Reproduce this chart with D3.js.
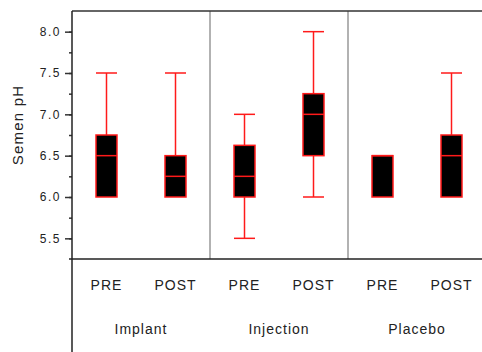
<!DOCTYPE html>
<html>
  <head>
    <meta charset="utf-8">
    <title>Semen pH</title>
    <script src="https://cdn.jsdelivr.net/npm/d3@7"></script>
    <style>
      body { margin: 0; background: #fff; }
      svg { display: block; font-family: "Liberation Sans", Arial, sans-serif; }
      .tick text { font-size: 12px; letter-spacing: 1.5px; fill: #222; }
      .cat { font-size: 14px; letter-spacing: 1px; fill: #222; }
    </style>
  </head>
  <body>
    <svg id="chart" width="482" height="352"></svg>
    <script>
      // data
      groups = ["Implant", "Injection", "Placebo"];
      phases = ["PRE", "POST"];
      // [min, q1, median, q3, max] for each group x phase
      mins    = [6.0, 6.0,  5.5, 6.0,  6.0, 6.0];
      q1s     = [6.0, 6.0,  6.0, 6.5,  6.0, 6.0];
      medians = [6.5, 6.25, 6.25, 7.0, 6.5, 6.5];
      q3s     = [6.75, 6.5, 6.625, 7.25, 6.5, 6.75];
      maxs    = [7.5, 7.5,  7.0, 8.0,  6.5, 7.5];
      yTicks = [5.5, 6.0, 6.5, 7.0, 7.5, 8.0];

      boxes = mins.map(function(d, i) {
        return {
          group: groups[Math.floor(i / 2)],
          phase: phases[i % 2],
          min: mins[i], q1: q1s[i], med: medians[i], q3: q3s[i], max: maxs[i]
        };
      });

      chart = d3.select("#chart");
      margin = { top: 11, left: 72, bottom: 259, right: 486 };

      y = d3.scaleLinear()
        .domain([5.25, 8.25])
        .range([margin.bottom, margin.top]);
      xGroup = d3.scaleBand()
        .domain(groups)
        .range([margin.left, margin.right]);
      xPhase = d3.scalePoint()
        .domain(phases)
        .range([0, xGroup.bandwidth()])
        .padding(0.5);
      boxW = 21;

      function cx(d) {
        return xGroup(d.group) + xPhase(d.phase);
      }

      // panel separators
      chart.selectAll(".sep")
        .data(groups.slice(1))
        .enter().append("line")
          .attr("x1", function(d) { return xGroup(d); })
          .attr("x2", function(d) { return xGroup(d); })
          .attr("y1", margin.top)
          .attr("y2", margin.bottom)
          .attr("stroke", "#999")
          .attr("stroke-width", 1.5);

      // y axis: major and minor ticks
      chart.append("g")
        .attr("transform", "translate(" + margin.left + ",0)")
        .call(d3.axisLeft(y)
          .tickValues(d3.range(5.5, 8.01, 0.25))
          .tickFormat("")
          .tickSize(3)
          .tickSizeOuter(0))
        .call(function(g) {
          g.select(".domain").remove();
          g.selectAll("line").attr("stroke", "#333").attr("stroke-width", 1.5);
        });
      chart.append("g")
        .attr("transform", "translate(" + margin.left + ",0)")
        .call(d3.axisLeft(y)
          .tickValues(yTicks)
          .tickFormat(d3.format(".1f"))
          .tickSize(7)
          .tickPadding(4)
          .tickSizeOuter(0))
        .call(function(g) {
          g.select(".domain").remove();
          g.selectAll("line").attr("stroke", "#333").attr("stroke-width", 1.5);
        });

      // frame lines
      chart.append("line")
        .attr("x1", margin.left).attr("x2", 482)
        .attr("y1", margin.top).attr("y2", margin.top)
        .attr("stroke", "#333").attr("stroke-width", 1.5);
      chart.append("line")
        .attr("x1", margin.left - 3).attr("x2", 482)
        .attr("y1", margin.bottom).attr("y2", margin.bottom)
        .attr("stroke", "#222").attr("stroke-width", 1.5);
      chart.append("line")
        .attr("x1", margin.left).attr("x2", margin.left)
        .attr("y1", margin.top).attr("y2", 352)
        .attr("stroke", "#222").attr("stroke-width", 1.5);

      // y title
      chart.append("text")
        .attr("class", "cat")
        .attr("transform", "translate(23,125) rotate(-90)")
        .attr("text-anchor", "middle")
        .style("font-size", "15px")
        .style("letter-spacing", "1.2px")
        .text("Semen pH");

      // boxes
      b = chart.selectAll(".box")
        .data(boxes)
        .enter().append("g")
          .attr("class", "box");
      b.append("line")
        .attr("x1", cx).attr("x2", cx)
        .attr("y1", function(d) { return y(d.max); })
        .attr("y2", function(d) { return y(d.q3); });
      b.append("line")
        .attr("x1", cx).attr("x2", cx)
        .attr("y1", function(d) { return y(d.q1); })
        .attr("y2", function(d) { return y(d.min); });
      b.filter(function(d) { return d.max > d.q3; })
        .append("line")
        .attr("x1", function(d) { return cx(d) - boxW / 2; })
        .attr("x2", function(d) { return cx(d) + boxW / 2; })
        .attr("y1", function(d) { return y(d.max); })
        .attr("y2", function(d) { return y(d.max); });
      b.filter(function(d) { return d.min < d.q1; })
        .append("line")
        .attr("x1", function(d) { return cx(d) - boxW / 2; })
        .attr("x2", function(d) { return cx(d) + boxW / 2; })
        .attr("y1", function(d) { return y(d.min); })
        .attr("y2", function(d) { return y(d.min); });
      b.append("rect")
        .attr("x", function(d) { return cx(d) - boxW / 2; })
        .attr("width", boxW)
        .attr("y", function(d) { return y(d.q3); })
        .attr("height", function(d) { return y(d.q1) - y(d.q3); })
        .attr("fill", "#000");
      b.append("line")
        .attr("x1", function(d) { return cx(d) - boxW / 2; })
        .attr("x2", function(d) { return cx(d) + boxW / 2; })
        .attr("y1", function(d) { return y(d.med); })
        .attr("y2", function(d) { return y(d.med); });
      b.selectAll("line, rect")
        .attr("stroke", "#ff1a1a")
        .attr("stroke-width", 1.5);

      // category labels
      chart.selectAll(".phaseLabel")
        .data(boxes)
        .enter().append("text")
          .attr("class", "cat")
          .attr("x", cx)
          .attr("y", 290)
          .attr("text-anchor", "middle")
          .text(function(d) { return d.phase; });
      chart.selectAll(".groupLabel")
        .data(groups)
        .enter().append("text")
          .attr("class", "cat")
          .attr("x", function(d) { return xGroup(d) + xGroup.bandwidth() / 2; })
          .attr("y", 334)
          .attr("text-anchor", "middle")
          .text(function(d) { return d; });
    </script>
  </body>
</html>
